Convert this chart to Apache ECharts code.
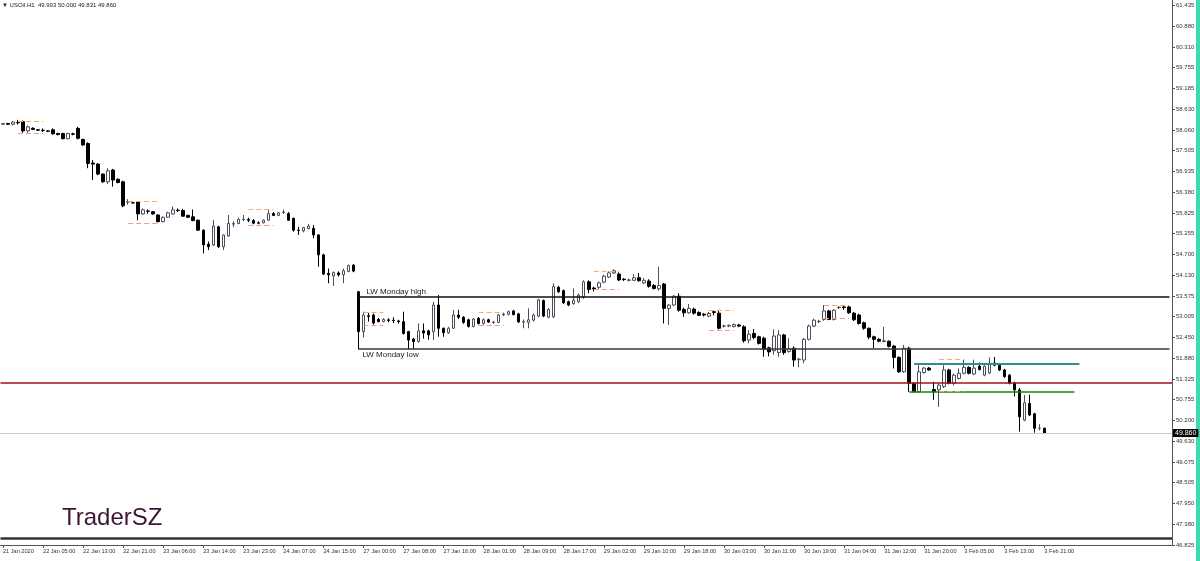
<!DOCTYPE html>
<html>
<head>
<meta charset="utf-8">
<script src="https://cdn.jsdelivr.net/npm/echarts@6/dist/echarts.min.js"></script>
<style>
html,body{margin:0;padding:0;background:#fff;}
#chart{width:1200px;height:561px;}
</style>
</head>
<body>
<div id="chart"></div>
<script>
// Hourly candles USOil H1: [open, close, low, high]
const candles = [
[58.23,58.25,58.22,58.26],[58.25,58.23,58.21,58.27],[58.23,58.29,58.20,58.32],[58.28,58.27,58.22,58.35],
[58.30,58.05,58.00,58.33],[58.05,58.16,58.00,58.20],[58.12,58.09,58.07,58.15],[58.08,58.07,58.05,58.10],
[58.07,58.06,58.02,58.12],[58.05,58.04,58.02,58.07],[58.08,57.97,57.95,58.12],[57.98,57.95,57.93,58.00],
[57.98,57.84,57.82,58.00],[57.84,57.98,57.82,58.00],[57.97,57.96,57.93,58.00],[58.12,57.85,57.82,58.16],
[57.82,57.67,57.65,57.84],[57.71,57.17,57.04,57.74],[57.18,57.15,56.72,57.26],[57.15,56.88,56.85,57.18],
[56.88,56.67,56.64,56.90],[56.67,56.97,56.61,57.04],[56.99,56.72,56.54,57.02],[56.74,56.65,56.63,56.76],
[56.67,56.02,55.98,56.70],[56.12,56.13,56.05,56.20],[56.10,56.10,56.08,56.13],[56.13,55.80,55.63,56.15],
[55.80,55.91,55.77,55.95],[55.88,55.87,55.80,55.92],[55.86,55.80,55.78,55.88],[55.77,55.59,55.57,55.79],
[55.59,55.71,55.57,55.73],[55.71,55.83,55.69,55.86],[55.80,55.91,55.78,56.00],[55.90,55.89,55.85,55.95],
[55.89,55.74,55.72,55.94],[55.76,55.71,55.69,55.78],[55.72,55.62,55.60,55.92],[55.63,55.36,55.34,55.65],
[55.36,54.96,54.73,55.38],[54.98,54.91,54.82,55.05],[54.96,55.47,54.93,55.63],[55.45,54.91,54.88,55.48],
[54.91,55.23,54.82,55.25],[55.20,55.54,55.18,55.77],[55.52,55.54,55.44,55.60],[55.54,55.65,55.52,55.70],
[55.65,55.66,55.60,55.77],[55.65,55.63,55.58,55.70],[55.62,55.55,55.52,55.66],[55.56,55.55,55.52,55.60],
[55.56,55.63,55.54,55.65],[55.63,55.81,55.61,55.91],[55.81,55.76,55.74,55.85],[55.76,55.83,55.74,55.86],
[55.84,55.85,55.80,55.92],[55.81,55.63,55.61,55.85],[55.68,55.36,55.32,55.70],[55.36,55.35,55.23,55.45],
[55.34,55.43,55.30,55.45],[55.40,55.47,55.38,55.53],[55.41,55.23,55.14,55.50],[55.23,54.69,54.37,55.25],
[54.69,54.17,54.14,54.72],[54.19,54.15,53.92,54.32],[54.12,54.21,53.85,54.24],[54.20,54.15,54.10,54.24],
[54.15,54.26,53.92,54.32],[54.24,54.40,54.22,54.43],[54.41,54.25,54.22,54.44],
[53.69,52.61,52.13,53.71],[52.61,53.06,52.45,53.15],[53.04,53.02,52.88,53.12],[53.06,52.84,52.80,53.10],
[52.94,52.88,52.86,52.98],[52.88,52.94,52.86,52.97],[52.93,52.91,52.86,52.97],[52.92,52.91,52.84,53.00],
[52.90,52.88,52.83,52.93],[52.88,52.56,52.53,53.15],[52.61,52.38,52.13,52.63],[52.41,52.34,52.13,52.44],
[52.34,52.63,52.31,52.83],[52.63,52.57,52.42,52.83],[52.63,52.52,52.39,52.66],[52.61,53.33,52.38,53.42],
[53.33,52.70,52.47,53.60],[52.70,52.58,52.47,52.72],[52.58,52.70,52.55,52.74],[52.70,53.06,52.68,53.20],
[53.06,53.00,52.95,53.20],[53.00,52.86,52.82,53.03],[52.93,52.75,52.72,52.96],[52.75,52.95,52.72,52.98],
[52.97,52.83,52.80,53.00],[52.83,52.93,52.80,52.97],[52.93,52.87,52.85,52.96],[52.86,52.87,52.82,52.90],
[52.86,53.06,52.84,53.09],[53.06,53.08,53.03,53.12],[53.08,53.15,53.05,53.18],[53.17,53.07,53.05,53.20],
[53.09,52.87,52.85,53.12],[52.87,52.88,52.70,52.94],[52.86,52.93,52.70,53.24],[52.92,53.06,52.88,53.10],
[53.03,53.47,53.00,53.50],[53.45,53.03,53.00,53.48],[53.00,53.21,52.97,53.25],[53.01,53.83,52.98,53.92],
[53.81,53.69,53.66,53.85],[53.72,53.39,53.36,53.75],[53.42,53.33,53.30,53.45],[53.37,53.46,53.34,53.78],
[53.42,53.60,53.38,53.64],[53.55,53.96,53.50,54.00],[53.96,53.75,53.65,54.00],[53.79,53.77,53.70,53.83],
[53.81,53.93,53.76,53.97],[53.95,54.11,53.92,54.15],[54.09,54.20,54.06,54.24],[54.20,54.26,54.17,54.30],
[54.17,54.01,53.98,54.22],[54.03,54.02,53.98,54.06],[54.00,54.01,53.97,54.05],[54.00,54.07,53.98,54.17],
[54.07,53.99,53.96,54.20],[53.93,54.00,53.90,54.06],[53.98,53.84,53.80,54.03],[53.86,53.78,53.75,53.90],
[53.77,53.86,53.72,54.37],[53.90,53.24,52.83,53.93],[53.24,53.33,52.79,53.36],[53.33,53.57,53.30,53.60],
[53.57,53.19,53.15,53.65],[53.21,53.12,53.01,53.26],[53.12,53.24,53.10,53.36],[53.22,53.11,53.07,53.26],
[53.13,53.05,53.03,53.16],[53.08,53.06,53.02,53.11],[53.03,53.10,53.00,53.14],
[53.15,53.13,53.05,53.18],[53.11,52.70,52.67,53.20],[52.76,52.76,52.72,52.80],[52.76,52.78,52.73,52.80],
[52.75,52.80,52.72,52.83],[52.79,52.76,52.73,52.82],[52.74,52.36,52.31,52.78],[52.38,52.54,52.29,52.65],
[52.56,52.45,52.40,52.68],[52.47,52.29,52.26,52.50],[52.43,52.13,51.93,52.47],[52.17,52.06,51.94,52.20],
[52.09,52.49,51.98,52.67],[52.04,52.52,51.93,52.65],[52.52,52.04,51.98,52.55],[52.07,52.15,52.04,52.43],
[52.16,51.84,51.66,52.21],[51.85,51.86,51.64,51.90],[51.84,52.40,51.75,52.44],[52.40,52.76,52.37,52.80],
[52.76,52.92,52.73,52.96],[52.88,52.89,52.84,52.93],[52.94,53.17,52.90,53.33],[53.17,52.94,52.92,53.20],
[52.94,53.19,52.91,53.22],[53.26,53.27,53.22,53.30],[53.28,53.26,53.20,53.33],[53.28,53.12,53.09,53.33],
[53.11,52.93,52.90,53.14],[53.06,52.83,52.80,53.10],[52.85,52.70,52.66,52.88],[52.70,52.46,52.40,52.72],
[52.47,52.40,52.16,52.50],[52.40,52.35,52.32,52.43],[52.34,52.36,52.32,52.74],[52.35,52.21,52.18,52.37],
[52.22,51.91,51.61,52.25],[51.91,51.52,51.49,51.94],[51.52,52.16,51.49,52.25],[52.16,51.21,50.98,52.20],
[51.20,50.98,50.96,51.24],[50.98,51.52,50.95,51.70],[51.50,51.62,51.47,51.65],[51.62,51.57,51.55,51.65],
[51.04,50.98,50.76,51.25],[51.03,51.16,50.57,51.20],[51.12,51.57,51.08,51.70],[51.57,51.21,51.18,51.60],
[51.21,51.43,51.15,51.47],[51.34,51.48,51.31,51.61],[51.48,51.64,51.45,51.86],[51.64,51.48,51.45,51.67],
[51.46,51.62,51.43,51.85],[51.67,51.58,51.56,51.77],[51.43,51.67,51.40,51.70],[51.49,51.75,51.46,51.91],
[51.76,51.70,51.67,51.92],[51.70,51.57,51.54,51.75],[51.57,51.39,51.36,51.60],[51.43,51.21,51.18,51.46],
[51.21,51.03,50.85,51.25],[51.03,50.30,49.90,51.08],[50.21,50.68,50.18,50.89],[50.66,50.35,50.32,50.90],
[50.38,49.99,49.87,50.41],[49.99,49.99,49.93,50.10],[49.993,49.860,49.831,50.000]
];

const xTickLabels = ['21 Jan 2020','22 Jan 05:00','22 Jan 13:00','22 Jan 21:00','23 Jan 06:00','23 Jan 14:00',
  '23 Jan 23:00','24 Jan 07:00','24 Jan 15:00','27 Jan 00:00','27 Jan 08:00','27 Jan 16:00','28 Jan 01:00',
  '28 Jan 09:00','28 Jan 17:00','29 Jan 02:00','29 Jan 10:00','29 Jan 18:00','30 Jan 03:00','30 Jan 11:00',
  '30 Jan 19:00','31 Jan 04:00','31 Jan 12:00','31 Jan 20:00','3 Feb 05:00','3 Feb 13:00','3 Feb 21:00'];

const yTickLabels = ['46.825','47.380','47.950','48.505','49.075','49.630','50.200','50.755','51.325','51.880',
  '52.450','53.005','53.575','54.130','54.700','55.255','55.825','56.380','56.935','57.505','58.060','58.630',
  '59.185','59.755','60.310','60.880','61.435'];

// daily open range markers: [startBar, endBar, upper, lower]
const dayMarks = [
  [3,8,58.30,58.00],[25,31,56.13,55.56],[49,54,55.93,55.50],[72,76,53.13,52.79],[95,100,53.14,52.79],
  [118,123,54.25,53.75],[141,146,53.18,52.65],[164,169,53.33,52.96],[187,192,51.87,50.98]
];

const lwMondayHigh = 53.56;
const lwMondayLow = 52.137;
const lwStartBar = 71;
const redLevel = 51.22;
const tealLevel = 51.73, tealStart = 182, tealEnd = 215;
const greenLevel = 50.97, greenStart = 181, greenEnd = 214;
const floorLevel = 47.015;
const symbolName = 'USOil.H1';

const Y_MIN = 46.825, Y_STEP = 0.5625, Y_MAX = 61.599;
const totalSlots = 234;
const cats = [];
for (let i = 0; i < totalSlots; i++) cats.push(String(i));
const last = candles[candles.length - 1];
const lastClose = last[1];
const lastIdx = totalSlots - 1;

const FONT = '"Liberation Sans", Arial, sans-serif';
const showX = (idx) => idx % 8 === 0 && idx / 8 < xTickLabels.length;

const markData = [];
markData.push({yAxis: redLevel, lineStyle:{color:'#a31212', width:1.5, type:'solid'}});
markData.push({yAxis: floorLevel, lineStyle:{color:'#333333', width:2.5, type:'solid'}});
markData.push({yAxis: lastClose, lineStyle:{color:'#c8c8c8', width:1, type:'solid'},
  label:{show:true, position:'end', distance:1, formatter: lastClose.toFixed(3), color:'#fff',
    backgroundColor:'#000', padding:[1,2,0,2], fontSize:7, fontFamily:FONT}});
markData.push([
  {coord:[lwStartBar, lwMondayHigh], lineStyle:{color:'#111', width:1.5, type:'solid'},
   label:{show:true, position:'insideStartTop', formatter:'LW Monday high', color:'#222', fontSize:8,
     fontFamily:FONT, distance:[8,1]}},
  {coord:[lastIdx, lwMondayHigh]}
]);
markData.push([
  {coord:[lwStartBar, lwMondayLow], lineStyle:{color:'#3a3a3a', width:1.5, type:'solid'},
   label:{show:true, position:'insideStartBottom', formatter:'LW Monday low', color:'#222', fontSize:8,
     fontFamily:FONT, distance:[4,2]}},
  {coord:[lastIdx, lwMondayLow]}
]);
markData.push([
  {coord:[tealStart, tealLevel], lineStyle:{color:'#2f8f8f', width:2, type:'solid'}},
  {coord:[tealEnd, tealLevel]}
]);
markData.push([
  {coord:[greenStart, greenLevel], lineStyle:{color:'#0b8a0b', width:1.5, type:'solid'}},
  {coord:[greenEnd, greenLevel]}
]);
dayMarks.forEach(d => {
  markData.push([
    {coord:[d[0], d[2]], lineStyle:{color:'#f4ad62', width:1, type:[5,3]}},
    {coord:[d[1], d[2]]}
  ]);
  markData.push([
    {coord:[d[0], d[3]], lineStyle:{color:'#f29c86', width:1, type:[5,3]}},
    {coord:[d[1], d[3]]}
  ]);
});

const chart = echarts.init(document.getElementById('chart'), null, {renderer:'canvas'});
chart.setOption({
  animation: false,
  backgroundColor: '#ffffff',
  grid: {left: 0, right: 28, top: 0, bottom: 16, containLabel: false},
  xAxis: {
    type: 'category', data: cats, boundaryGap: true,
    axisLine: {show: true, lineStyle: {color: '#555', width: 1}},
    axisTick: {show: true, interval: showX, alignWithLabel: true, length: 3, lineStyle: {color: '#555'}},
    axisLabel: {interval: showX, formatter: (v, i) => xTickLabels[i / 8] || '', align: 'left',
      fontSize: 5.6, color: '#333', margin: 3, fontFamily: FONT},
    splitLine: {show: false}
  },
  yAxis: {
    type: 'value', position: 'right', min: Y_MIN, max: Y_MAX, interval: Y_STEP,
    axisLine: {show: true, lineStyle: {color: '#555', width: 1}},
    axisTick: {show: true, length: 3, lineStyle: {color: '#555'}},
    axisLabel: {showMaxLabel: false, fontSize: 6, color: '#333', margin: 4, fontFamily: FONT,
      formatter: (v) => {
        const k = (v - Y_MIN) / Y_STEP;
        const r = Math.round(k);
        return Math.abs(k - r) < 0.01 && yTickLabels[r] ? yTickLabels[r] : '';
      }},
    splitLine: {show: false}
  },
  series: [{
    type: 'candlestick',
    data: candles,
    barWidth: 3,
    itemStyle: {color: '#ffffff', color0: '#000000', borderColor: '#4d4d5e', borderColor0: '#000000', borderWidth: 1},
    markLine: {silent: true, symbol: ['none', 'none'], animation: false, label: {show: false}, data: markData}
  }],
  graphic: [
    {type: 'text', left: 2, top: 2, style: {text: '\u25BC ' + symbolName + '  ' + last[0].toFixed(3) + ' ' + last[3].toFixed(3) + ' ' + last[2].toFixed(3) + ' ' + last[1].toFixed(3),
      font: '6px ' + FONT, fill: '#222'}},
    {type: 'text', left: 62, top: 506, style: {text: 'TraderSZ', font: '24px ' + FONT, fill: '#3d1535'}},
    {type: 'rect', right: 0, top: 0, shape: {width: 4, height: 561}, style: {fill: '#3fd9b0'}}
  ]
});
</script>
</body>
</html>
